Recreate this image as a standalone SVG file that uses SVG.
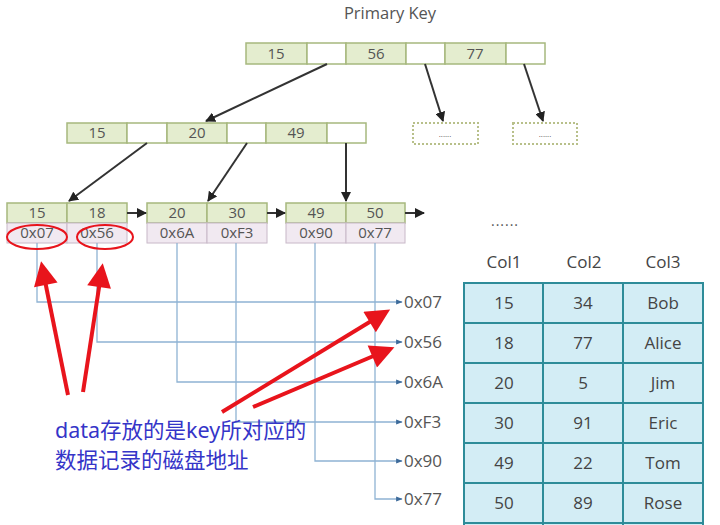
<svg xmlns="http://www.w3.org/2000/svg" width="720" height="525" viewBox="0 0 720 525">
<style>
.key{fill:#e4edcf;stroke:#a6b87e;stroke-width:1.5}
.ptr{fill:#ffffff;stroke:#a6b87e;stroke-width:1.5}
.dat{fill:#f1e9f1;stroke:#c8b8c8;stroke-width:1}
.t{font-family:"Open Sans","Noto Sans","Liberation Sans",sans-serif;fill:#555;text-anchor:middle}
.n{font-size:15px}
.addr{font-size:17px;fill:#555;font-family:"Open Sans","Noto Sans","Liberation Sans",sans-serif}
.edge{stroke:#333;stroke-width:2;fill:none;marker-end:url(#ah)}
.bluea{stroke:#8fb3d3;stroke-width:1.3;fill:none;marker-end:url(#bh)}
.red{stroke:#e8141c;stroke-width:4;fill:none;marker-end:url(#rh)}
.cell{fill:#d3edf5;stroke:#2e8c99;stroke-width:2}
.tt{font-family:"Open Sans","Noto Sans","Liberation Sans",sans-serif;font-size:17px;fill:#444;text-anchor:middle}
.cn{font-family:"Noto Sans","Noto Sans CJK SC",sans-serif;font-size:21.5px;fill:#3535c8}
</style>
<defs>
<marker id="ah" viewBox="0 0 10 10" refX="9" refY="5" markerWidth="5" markerHeight="5" orient="auto" markerUnits="strokeWidth"><path d="M0,0 L10,5 L0,10 z" fill="#222"/></marker>
<marker id="bh" viewBox="0 0 10 10" refX="9" refY="5" markerWidth="5" markerHeight="5" orient="auto" markerUnits="strokeWidth"><path d="M0,1 L10,5 L0,9 z" fill="#3c6a9a"/></marker>
<marker id="rh" viewBox="0 0 10 10" refX="8" refY="5" markerWidth="7" markerHeight="6" orient="auto" markerUnits="strokeWidth"><path d="M0,0 L10,5 L0,10 z" fill="#e8141c"/></marker>
</defs>
<rect width="720" height="525" fill="#ffffff"/>
<text class="t" x="390" y="19" font-size="16.5">Primary Key</text>

<g id="root">
<rect class="key" x="246" y="43" width="61" height="21"/>
<rect class="ptr" x="307" y="43" width="39" height="21"/>
<rect class="key" x="346" y="43" width="60" height="21"/>
<rect class="ptr" x="406" y="43" width="39" height="21"/>
<rect class="key" x="445" y="43" width="61" height="21"/>
<rect class="ptr" x="506" y="43" width="39" height="21"/>
<text class="t n" x="276" y="59">15</text>
<text class="t n" x="376" y="59">56</text>
<text class="t n" x="475" y="59">77</text>
</g>

<g id="dash1"><rect x="413" y="123" width="65" height="21" fill="#fff" stroke="#b8c08a" stroke-width="2" stroke-dasharray="2,2"/><text class="t" x="445" y="137" font-size="8">......</text></g>
<g id="dash2"><rect x="513" y="123" width="64" height="21" fill="#fff" stroke="#b8c08a" stroke-width="2" stroke-dasharray="2,2"/><text class="t" x="545" y="137" font-size="8">......</text></g>

<g id="mid">
<rect class="key" x="67" y="123" width="60" height="20"/>
<rect class="ptr" x="127" y="123" width="40" height="20"/>
<rect class="key" x="167" y="123" width="60" height="20"/>
<rect class="ptr" x="227" y="123" width="39" height="20"/>
<rect class="key" x="266" y="123" width="61" height="20"/>
<rect class="ptr" x="327" y="123" width="39" height="20"/>
<text class="t n" x="97" y="138">15</text>
<text class="t n" x="197" y="138">20</text>
<text class="t n" x="296" y="138">49</text>
</g>

<g id="leaf1">
<rect class="key" x="7" y="203" width="60" height="20"/>
<rect class="key" x="67" y="203" width="60" height="20"/>
<rect class="dat" x="7" y="223" width="60" height="20"/>
<rect class="dat" x="67" y="223" width="60" height="20"/>
<text class="t n" x="37" y="218">15</text>
<text class="t n" x="97" y="218">18</text>
<text class="t n" x="37" y="238">0x07</text>
<text class="t n" x="97" y="238">0x56</text>
</g>
<g id="leaf2">
<rect class="key" x="147" y="203" width="60" height="20"/>
<rect class="key" x="207" y="203" width="60" height="20"/>
<rect class="dat" x="147" y="223" width="60" height="20"/>
<rect class="dat" x="207" y="223" width="60" height="20"/>
<text class="t n" x="177" y="218">20</text>
<text class="t n" x="237" y="218">30</text>
<text class="t n" x="177" y="238">0x6A</text>
<text class="t n" x="237" y="238">0xF3</text>
</g>
<g id="leaf3">
<rect class="key" x="286" y="203" width="60" height="20"/>
<rect class="key" x="346" y="203" width="59" height="20"/>
<rect class="dat" x="286" y="223" width="60" height="20"/>
<rect class="dat" x="346" y="223" width="59" height="20"/>
<text class="t n" x="316" y="218">49</text>
<text class="t n" x="375" y="218">50</text>
<text class="t n" x="316" y="238">0x90</text>
<text class="t n" x="375" y="238">0x77</text>
</g>

<g id="connectors">
<line class="edge" x1="327" y1="64" x2="206" y2="121"/>
<line class="edge" x1="425" y1="64" x2="443" y2="121"/>
<line class="edge" x1="524" y1="64" x2="543" y2="121"/>
<line class="edge" x1="147" y1="143" x2="69" y2="201"/>
<line class="edge" x1="247" y1="143" x2="208" y2="201"/>
<line class="edge" x1="346" y1="143" x2="346" y2="201"/>
<line class="edge" x1="127" y1="213" x2="146" y2="213"/>
<line class="edge" x1="267" y1="213" x2="285" y2="213"/>
<line class="edge" x1="405" y1="213" x2="424" y2="213"/>

<path class="bluea" d="M37,243 V302 H402"/>
<path class="bluea" d="M97,243 V342 H402"/>
<path class="bluea" d="M177,243 V382 H402"/>
<path class="bluea" d="M236,243 V422 H402"/>
<path class="bluea" d="M315,243 V461 H402"/>
<path class="bluea" d="M375,243 V499 H402"/>
</g>

<g id="addresses">
<text class="addr" x="404" y="308">0x07</text>
<text class="addr" x="404" y="348">0x56</text>
<text class="addr" x="404" y="388">0x6A</text>
<text class="addr" x="404" y="428">0xF3</text>
<text class="addr" x="404" y="467">0x90</text>
<text class="addr" x="404" y="505">0x77</text>
</g>

<g id="annotation">
<ellipse cx="37" cy="237" rx="30" ry="12" fill="none" stroke="#e8141c" stroke-width="2"/>
<ellipse cx="105" cy="237" rx="28" ry="12" fill="none" stroke="#e8141c" stroke-width="2"/>
<line class="red" x1="68" y1="395" x2="42" y2="266"/>
<line class="red" x1="83" y1="392" x2="102" y2="268"/>
<line class="red" x1="222" y1="412" x2="386" y2="312"/>
<line class="red" x1="253" y1="407" x2="390" y2="349"/>
<text class="cn" x="55" y="438">data存放的是key所对应的</text>
<text class="cn" x="55" y="468">数据记录的磁盘地址</text>
</g>

<g id="table">
<text class="t" x="505" y="226" font-size="14" letter-spacing="1">......</text>
<text class="tt" x="504" y="268">Col1</text>
<text class="tt" x="584" y="268">Col2</text>
<text class="tt" x="663" y="268">Col3</text>
<rect class="cell" x="464" y="283" width="79" height="40"/><rect class="cell" x="543" y="283" width="80" height="40"/><rect class="cell" x="623" y="283" width="80" height="40"/>
<rect class="cell" x="464" y="323" width="79" height="40"/><rect class="cell" x="543" y="323" width="80" height="40"/><rect class="cell" x="623" y="323" width="80" height="40"/>
<rect class="cell" x="464" y="363" width="79" height="40"/><rect class="cell" x="543" y="363" width="80" height="40"/><rect class="cell" x="623" y="363" width="80" height="40"/>
<rect class="cell" x="464" y="403" width="79" height="40"/><rect class="cell" x="543" y="403" width="80" height="40"/><rect class="cell" x="623" y="403" width="80" height="40"/>
<rect class="cell" x="464" y="443" width="79" height="40"/><rect class="cell" x="543" y="443" width="80" height="40"/><rect class="cell" x="623" y="443" width="80" height="40"/>
<rect class="cell" x="464" y="483" width="79" height="40"/><rect class="cell" x="543" y="483" width="80" height="40"/><rect class="cell" x="623" y="483" width="80" height="40"/>
<rect class="cell" x="464" y="523" width="79" height="40"/><rect class="cell" x="543" y="523" width="80" height="40"/><rect class="cell" x="623" y="523" width="80" height="40"/>
<text class="tt" x="504" y="309">15</text><text class="tt" x="583" y="309">34</text><text class="tt" x="663" y="309">Bob</text>
<text class="tt" x="504" y="349">18</text><text class="tt" x="583" y="349">77</text><text class="tt" x="663" y="349">Alice</text>
<text class="tt" x="504" y="389">20</text><text class="tt" x="583" y="389">5</text><text class="tt" x="663" y="389">Jim</text>
<text class="tt" x="504" y="429">30</text><text class="tt" x="583" y="429">91</text><text class="tt" x="663" y="429">Eric</text>
<text class="tt" x="504" y="469">49</text><text class="tt" x="583" y="469">22</text><text class="tt" x="663" y="469">Tom</text>
<text class="tt" x="504" y="509">50</text><text class="tt" x="583" y="509">89</text><text class="tt" x="663" y="509">Rose</text>
</g>
</svg>
